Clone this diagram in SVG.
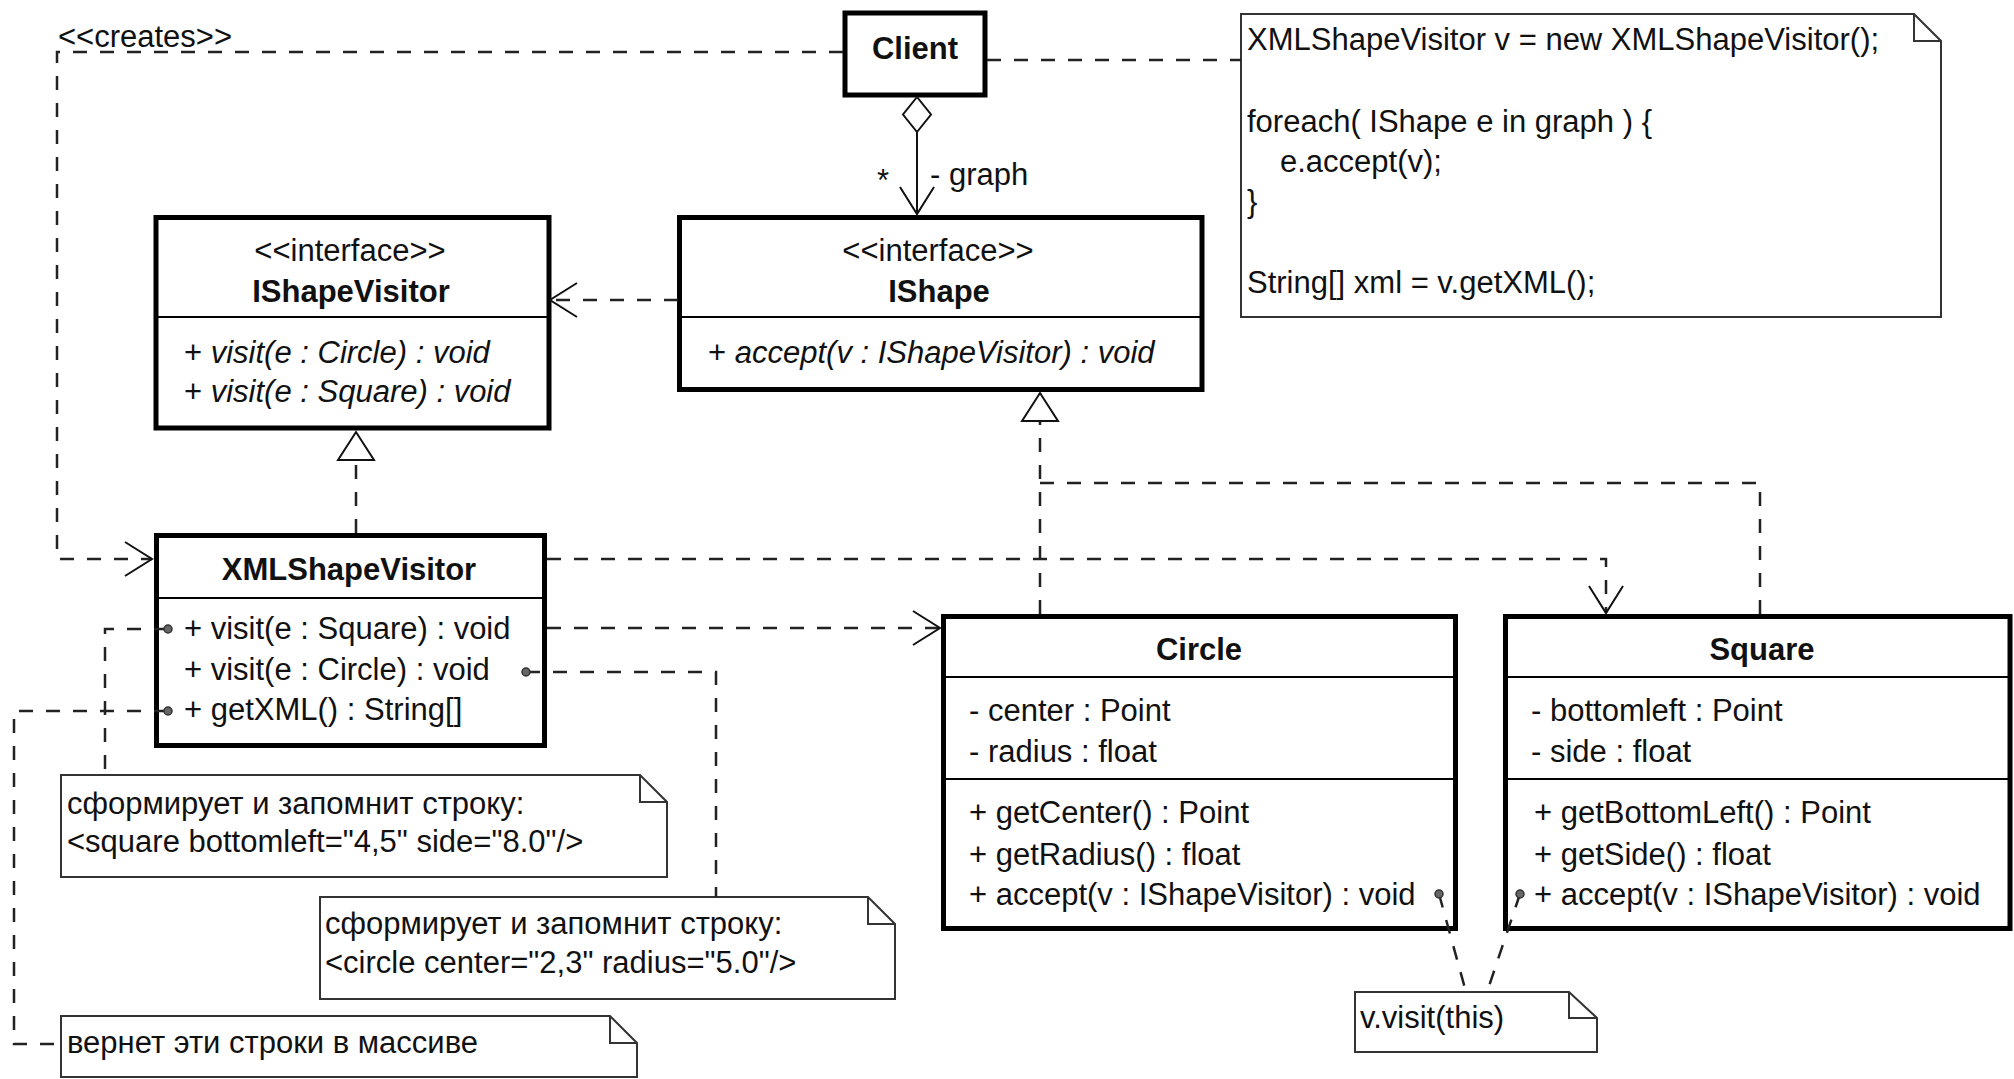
<svg xmlns="http://www.w3.org/2000/svg" width="2014" height="1079" viewBox="0 0 2014 1079">
  <style>
    .t { font-family: "Liberation Sans", Arial, Helvetica, sans-serif; font-size: 31px; fill: #111; }
    .b { font-weight: bold; }
    .i { font-style: italic; }
    .m { text-anchor: middle; }
    .box { fill: #fff; stroke: #000; stroke-width: 5; }
    .div { stroke: #000; stroke-width: 2; }
    .dash { fill: none; stroke: #222; stroke-width: 2.5; stroke-dasharray: 14 13; }
    .solid { fill: none; stroke: #111; stroke-width: 2; }
    .note { fill: #fff; stroke: #333; stroke-width: 2; }
    .fold { fill: none; stroke: #333; stroke-width: 2; }
    .pin { fill: #666; stroke: #333; stroke-width: 1.5; }
  </style>
  <defs>
    <!-- open arrowhead for dependencies / navigable association -->
    <marker id="open" viewBox="0 0 30 40" refX="28" refY="20" markerWidth="30" markerHeight="40" orient="auto" markerUnits="userSpaceOnUse">
      <path d="M1 3 L28 20 L1 37" fill="none" stroke="#111" stroke-width="2"/>
    </marker>
    <!-- hollow triangle for realization -->
    <marker id="tri" viewBox="0 0 32 40" refX="30" refY="20" markerWidth="32" markerHeight="40" orient="auto" markerUnits="userSpaceOnUse">
      <path d="M2 2 L30 20 L2 38 Z" fill="#fff" stroke="#111" stroke-width="2"/>
    </marker>
  </defs>

  <rect width="2014" height="1079" fill="#fff"/>

  <!-- classes -->
  <g id="client">
    <rect class="box" x="845" y="13" width="140" height="82"/>
    <text class="t b m" x="915" y="59">Client</text>
  </g>

  <g id="ishapevisitor">
    <rect class="box" x="156" y="217.5" width="393" height="210.5"/>
    <line class="div" x1="156" y1="317" x2="549" y2="317"/>
    <text class="t m" x="350" y="261">&lt;&lt;interface&gt;&gt;</text>
    <text class="t b m" x="351" y="302">IShapeVisitor</text>
    <text class="t" x="184" y="363">+ <tspan class="i">visit(e : Circle) : void</tspan></text>
    <text class="t" x="184" y="402">+ <tspan class="i">visit(e : Square) : void</tspan></text>
  </g>

  <g id="ishape">
    <rect class="box" x="679.5" y="217.5" width="522.5" height="172"/>
    <line class="div" x1="679.5" y1="317" x2="1202" y2="317"/>
    <text class="t m" x="938" y="261">&lt;&lt;interface&gt;&gt;</text>
    <text class="t b m" x="939" y="302">IShape</text>
    <text class="t" x="708" y="363">+ <tspan class="i">accept(v : IShapeVisitor) : void</tspan></text>
  </g>

  <g id="xmlshapevisitor">
    <rect class="box" x="156.5" y="535.5" width="388" height="210"/>
    <line class="div" x1="156.5" y1="598" x2="544.5" y2="598"/>
    <text class="t b m" x="349" y="580">XMLShapeVisitor</text>
    <text class="t" x="184" y="639">+ visit(e : Square) : void</text>
    <text class="t" x="184" y="680">+ visit(e : Circle) : void</text>
    <text class="t" x="184" y="720">+ getXML() : String[]</text>
  </g>

  <g id="circle">
    <rect class="box" x="943.5" y="616.5" width="512" height="312"/>
    <line class="div" x1="943.5" y1="677" x2="1455.5" y2="677"/>
    <line class="div" x1="943.5" y1="779" x2="1455.5" y2="779"/>
    <text class="t b m" x="1199" y="660">Circle</text>
    <text class="t" x="969" y="721">- center : Point</text>
    <text class="t" x="969" y="762">- radius : float</text>
    <text class="t" x="969" y="823">+ getCenter() : Point</text>
    <text class="t" x="969" y="865">+ getRadius() : float</text>
    <text class="t" x="969" y="905">+ accept(v : IShapeVisitor) : void</text>
  </g>

  <g id="square">
    <rect class="box" x="1505.5" y="616.5" width="504.5" height="312"/>
    <line class="div" x1="1505.5" y1="677" x2="2010" y2="677"/>
    <line class="div" x1="1505.5" y1="779" x2="2010" y2="779"/>
    <text class="t b m" x="1762" y="660">Square</text>
    <text class="t" x="1531" y="721">- bottomleft : Point</text>
    <text class="t" x="1531" y="762">- side : float</text>
    <text class="t" x="1534" y="823">+ getBottomLeft() : Point</text>
    <text class="t" x="1534" y="865">+ getSide() : float</text>
    <text class="t" x="1534" y="905">+ accept(v : IShapeVisitor) : void</text>
  </g>

  <!-- notes -->
  <g id="note-client">
    <path class="note" d="M1241 14 H1914 L1941 41 V317 H1241 Z"/>
    <path class="fold" d="M1914 14 V41 H1941"/>
    <text class="t" x="1247" y="50">XMLShapeVisitor v = new XMLShapeVisitor();</text>
    <text class="t" x="1247" y="132">foreach( IShape e in graph ) {</text>
    <text class="t" x="1280" y="172">e.accept(v);</text>
    <text class="t" x="1247" y="212">}</text>
    <text class="t" x="1247" y="293">String[] xml = v.getXML();</text>
  </g>

  <g id="note-square">
    <path class="note" d="M61 775 H640 L667 802 V877 H61 Z"/>
    <path class="fold" d="M640 775 V802 H667"/>
    <text class="t" x="67" y="814">сформирует и запомнит строку:</text>
    <text class="t" x="67" y="852">&lt;square bottomleft="4,5" side="8.0"/&gt;</text>
  </g>

  <g id="note-circle">
    <path class="note" d="M320 897 H868 L895 924 V999 H320 Z"/>
    <path class="fold" d="M868 897 V924 H895"/>
    <text class="t" x="325" y="934">сформирует и запомнит строку:</text>
    <text class="t" x="325" y="973">&lt;circle center="2,3" radius="5.0"/&gt;</text>
  </g>

  <g id="note-getxml">
    <path class="note" d="M61 1016 H610 L637 1043 V1077 H61 Z"/>
    <path class="fold" d="M610 1016 V1043 H637"/>
    <text class="t" x="67" y="1053">вернет эти строки в массиве</text>
  </g>

  <g id="note-accept">
    <path class="note" d="M1355 992 H1569 L1597 1018 V1052 H1355 Z"/>
    <path class="fold" d="M1569 992 V1018 H1597"/>
    <text class="t" x="1360" y="1028">v.visit(this)</text>
  </g>

  <!-- connectors -->
  <g id="connectors">
    <!-- Client creates XMLShapeVisitor -->
    <path class="dash" d="M843 52 H57 V559 H152" marker-end="url(#open)"/>
    <text class="t" x="58" y="47">&lt;&lt;creates&gt;&gt;</text>

    <!-- Client aggregates IShape (graph) -->
    <polygon points="917,97 931,114.5 917,132 903,114.5" fill="#fff" stroke="#111" stroke-width="2"/>
    <path class="solid" d="M917 132 V214" marker-end="url(#open)"/>
    <text class="t" x="877" y="191">*</text>
    <text class="t" x="930" y="185">- graph</text>

    <!-- Client to its note -->
    <path class="dash" d="M987 60 H1241"/>

    <!-- IShape uses IShapeVisitor -->
    <path class="dash" d="M678 300 H550" marker-end="url(#open)"/>

    <!-- XMLShapeVisitor realizes IShapeVisitor -->
    <path class="dash" d="M356 533 V432" marker-end="url(#tri)"/>

    <!-- Circle and Square realize IShape -->
    <path class="dash" d="M1760 614 V483 H1040"/>
    <path class="dash" d="M1040 614 V393" marker-end="url(#tri)"/>

    <!-- XMLShapeVisitor depends on Circle and Square -->
    <path class="dash" d="M547 628 H940" marker-end="url(#open)"/>
    <path class="dash" d="M547 559 H1606 V613" marker-end="url(#open)"/>

    <!-- member notes -->
    <path class="dash" d="M168 629 H105 V775"/>
    <path class="dash" d="M526 672 H716 V897"/>
    <path class="dash" d="M168 711 H14 V1044 H61"/>
    <path class="dash" d="M1439 894 L1466 992"/>
    <path class="dash" d="M1520 894 L1487 992"/>

    <circle class="pin" cx="168" cy="629" r="4"/>
    <circle class="pin" cx="526" cy="672" r="4"/>
    <circle class="pin" cx="168" cy="711" r="4"/>
    <circle class="pin" cx="1439" cy="894" r="4"/>
    <circle class="pin" cx="1520" cy="894" r="4"/>
  </g>
</svg>
